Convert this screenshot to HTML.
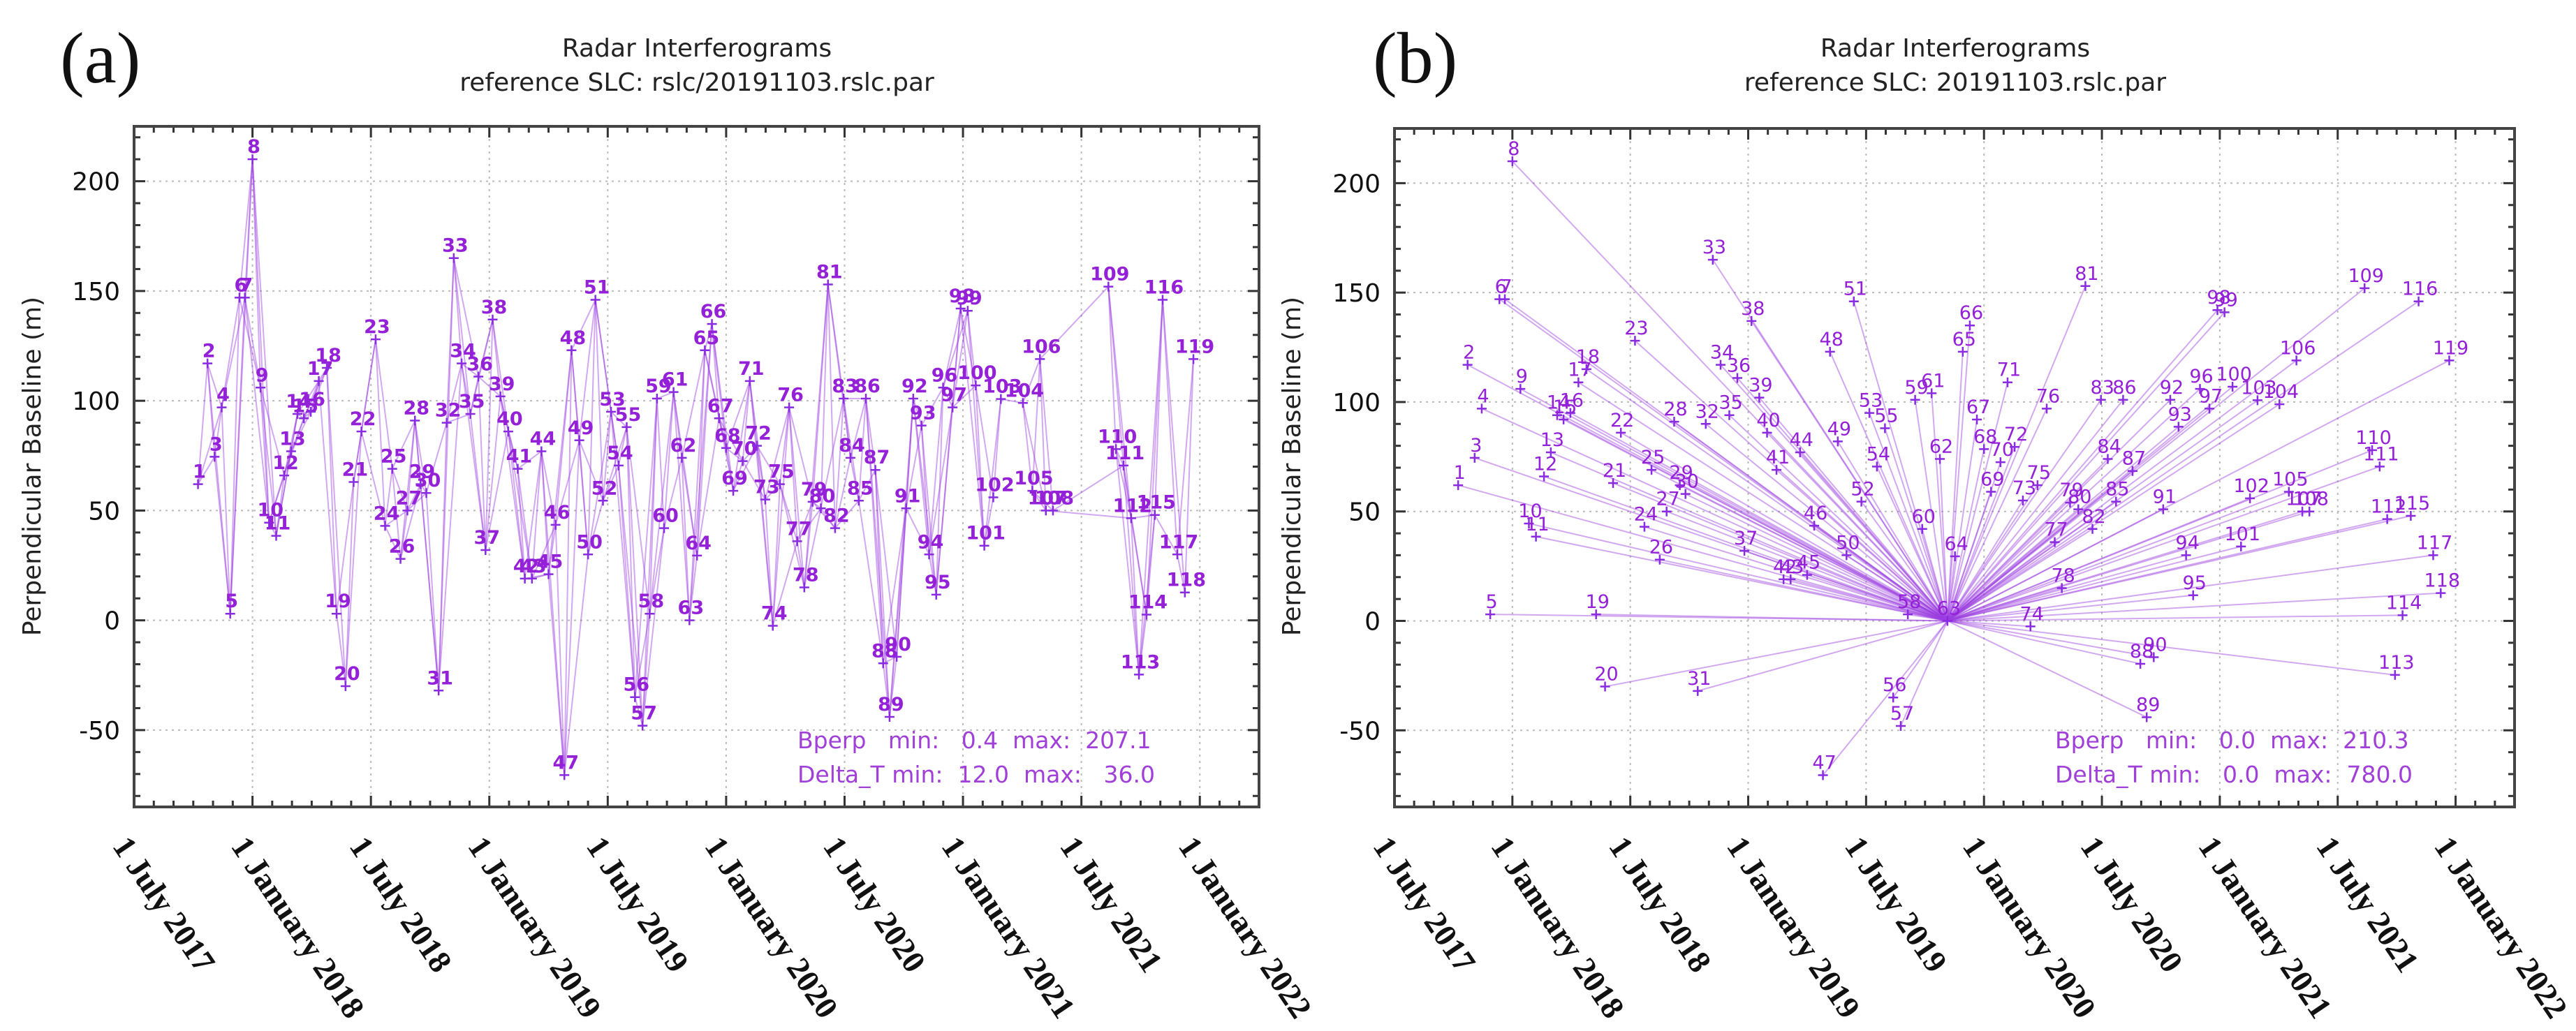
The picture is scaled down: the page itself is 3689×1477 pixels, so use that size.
<!DOCTYPE html>
<html><head><meta charset="utf-8">
<style>
html,body{margin:0;padding:0;background:#fff;}
svg{display:block;}
text{font-family:"DejaVu Sans","Liberation Sans",sans-serif;}
.serif{font-family:"Liberation Serif","Times New Roman",serif;}
</style></head>
<body>
<svg id="chart" width="3689" height="1477" viewBox="0 0 3689 1477" xmlns="http://www.w3.org/2000/svg">
<rect x="0" y="0" width="3689" height="1477" fill="#fff"/>
</svg>
<script>
// ---- data ----
const acqIds = [];
for (let i = 1; i <= 119; i++) acqIds.push(i);
const acqDates = [2017.77,2017.81,2017.84,2017.87,2017.906,2017.945,2017.968,2018.0,2018.034,2018.07,
2018.10,2018.134,2018.163,2018.19,2018.217,2018.246,2018.28,2018.314,2018.355,2018.393,
2018.427,2018.46,2018.52,2018.56,2018.59,2018.625,2018.654,2018.686,2018.71,2018.734,
2018.786,2018.82,2018.85,2018.883,2018.92,2018.954,2018.984,2019.014,2019.047,2019.08,
2019.12,2019.15,2019.18,2019.22,2019.25,2019.28,2019.317,2019.347,2019.38,2019.417,
2019.448,2019.48,2019.514,2019.546,2019.58,2019.615,2019.647,2019.677,2019.708,2019.738,
2019.778,2019.813,2019.845,2019.877,2019.91,2019.94,2019.97,2020.0,2020.03,2020.07,
2020.1,2020.13,2020.165,2020.197,2020.227,2020.266,2020.30,2020.33,2020.365,2020.40,
2020.43,2020.46,2020.496,2020.525,2020.56,2020.59,2020.63,2020.663,2020.69,2020.72,
2020.76,2020.79,2020.825,2020.857,2020.887,2020.916,2020.956,2020.99,2021.02,2021.054,
2021.09,2021.128,2021.16,2021.253,2021.293,2021.325,2021.35,2021.38,2021.614,2021.646,
2021.678,2021.71,2021.743,2021.775,2021.81,2021.843,2021.905,2021.937,2021.973];
const acqBperp = [62,117,74.5,97,3,147,147,210,106,44.5,
38.5,66,77,94,92,95,109,115,3,-30,
63,86,128,43,69,28,50,91,62,58,
-32,90,165,117,94,111,32,137,102,86,
69,19,19,77,21,43.5,-70.5,123,82,30,
146,54.5,95,70.5,88,-35,-48,3,101,42,
104,74,0,29.5,123,135,92,78.5,59,72.5,
109,79.5,55,-2.5,62,97,36,15,54,51,
153,42,101,74,54.5,101,68.5,-19.6,-44,-16.6,
51,101,88.7,30,11.7,106,97,142,141,107,
34,56,100.8,99,59,119,50,50,152,78,
70.5,46.5,-24.7,2.6,48,146,30,12.7,119];
const extraPairs = [[106,109],[108,111],[107,112]];
const referenceId = 63;
const yTicks = [-50,0,50,100,150,200];
const xTickYears = [2017.5,2018,2018.5,2019,2019.5,2020,2020.5,2021,2021.5,2022];
const xTickLabels = ["1 July 2017","1 January 2018","1 July 2018","1 January 2019","1 July 2019","1 January 2020","1 July 2020","1 January 2021","1 July 2021","1 January 2022"];
const statsA = ["Bperp   min:   0.4  max:  207.1","Delta_T min:  12.0  max:   36.0"];
const statsB = ["Bperp   min:   0.0  max:  210.3","Delta_T min:   0.0  max:  780.0"];

const NS = "http://www.w3.org/2000/svg";
const svg = document.getElementById('chart');
function mk(tag, attrs, parent){
  const e = document.createElementNS(NS, tag);
  for (const k in attrs) e.setAttribute(k, attrs[k]);
  (parent||svg).appendChild(e);
  return e;
}
const X0 = 2017.5, X1 = 2022.25, Y0 = -85, Y1 = 225;

function panel(opt){
  const g = mk('g', {});
  
  
  const L=opt.left, R=opt.right, T=opt.top, B=opt.bottom;
  const sx = v => L + (v - X0) / (X1 - X0) * (R - L);
  const sy = v => B - (v - Y0) / (Y1 - Y0) * (B - T);

  xTickYears.forEach(v => {
    const l = mk('line',{x1:sx(v),x2:sx(v),y1:T,y2:B,stroke:'#bbb','stroke-width':2,'stroke-dasharray':'3 6'},g);
    
    
  });
  yTicks.forEach(v => {
    const l = mk('line',{x1:L,x2:R,y1:sy(v),y2:sy(v),stroke:'#bbb','stroke-width':2,'stroke-dasharray':'3 6'},g);
    
    
  });
  for (let m = 0; m < 57; m++) {
    const v = X0 + m/12;
    if (v > X1) break;
    const major = (m % 6 === 0);
    const len = major ? 16 : 9;
    mk('line',{x1:sx(v),x2:sx(v),y1:B,y2:B-len,stroke:'#333','stroke-width':3},g);
    mk('line',{x1:sx(v),x2:sx(v),y1:T,y2:T+len,stroke:'#333','stroke-width':3},g);
  }
  for (let v = -80; v <= 220; v += 10) {
    const major = (v % 50 === 0);
    const len = major ? 16 : 9;
    mk('line',{x1:L,x2:L+len,y1:sy(v),y2:sy(v),stroke:'#333','stroke-width':3},g);
    mk('line',{x1:R,x2:R-len,y1:sy(v),y2:sy(v),stroke:'#333','stroke-width':3},g);
  }
  yTicks.forEach(v => {
    const t = mk('text',{x:L-20,y:sy(v)+13,'text-anchor':'end','font-size':36,fill:'#111'},g);
    t.textContent = v;
    
    
  });
  xTickYears.forEach((v,i) => {
    const x = sx(v) - 32, y = 1212;
    const t = mk('text',{x:0,y:0,transform:`translate(${x},${y}) rotate(56)`,'font-size':46,'font-weight':'bold',fill:'#111','class':'serif'},g);
    t.textContent = xTickLabels[i];
    
    
  });

  const lg = mk('g',{stroke:'#9b3fe0','stroke-width':2,'stroke-opacity':0.45,fill:'none'},g);
  
  
  const n = acqIds.length;
  const addLine = (a,b) => {
    const l = mk('line',{x1:sx(acqDates[a]),y1:sy(acqBperp[a]),x2:sx(acqDates[b]),y2:sy(acqBperp[b])},lg);
    
    
  };
  if (opt.mode === 'sbas') {
    for (let i=0;i<n;i++) for (let k=1;k<=3;k++) {
      const j=i+k; if (j>=n) break;
      if (acqDates[j]-acqDates[i] <= 0.105) addLine(i,j);
    }
    extraPairs.forEach(p => addLine(acqIds.indexOf(p[0]), acqIds.indexOf(p[1])));
  } else {
    const r = acqIds.indexOf(referenceId);
    for (let i=0;i<n;i++) if (i!==r) addLine(r,i);
  }
  const mg = mk('g',{},g);
  
  
  for (let i=0;i<n;i++){
    const x = sx(acqDates[i]), y = sy(acqBperp[i]);
    const p = mk('path',{d:`M${x-7},${y}h14M${x},${y-7}v14`,stroke:'#8a2be2','stroke-width':2.5},mg);
    
    
    const t = mk('text',{x:x+2,y:y-9,'text-anchor':'middle','font-size':27,'font-weight':opt.mode==='sbas'?'bold':'normal',fill:'#9420d8'},mg);
    t.textContent = acqIds[i];
    
    
  }
  const fr = mk('rect',{x:L,y:T,width:R-L,height:B-T,fill:'none',stroke:'#444','stroke-width':4},g);
  
  

  opt.stats.forEach((s,i) => {
    const t = mk('text',{x:opt.statsX,y:1072+i*49,'font-size':33,fill:'#a040d8','xml:space':'preserve'},g);
    t.setAttribute('style','white-space:pre');
    t.textContent = s;
    
    
  });
  const t1 = mk('text',{x:opt.titleX,y:81,'text-anchor':'middle','font-size':36,fill:'#222'},g);
  t1.textContent = 'Radar Interferograms';
  
  
  const t2 = mk('text',{x:opt.titleX,y:130,'text-anchor':'middle','font-size':36,fill:'#222'},g);
  t2.textContent = opt.subtitle;
  
  
  const pl = mk('text',{x:opt.labelX,y:118,'font-size':104,fill:'#111','class':'serif'},g);
  pl.textContent = opt.panelLabel;
  
  
  const yt = mk('text',{x:0,y:0,transform:`translate(${opt.yTitleX},668) rotate(-90)`,'text-anchor':'middle','font-size':36,fill:'#222'},g);
  yt.textContent = 'Perpendicular Baseline (m)';
  
  
}

panel({name:'panel-a-sbas-network',mode:'sbas',left:192,right:1803,top:181,bottom:1156,
  stats:statsA,statsX:1142,titleX:998,subtitle:'reference SLC: rslc/20191103.rslc.par',panelLabel:'(a)',labelX:86,yTitleX:58});
panel({name:'panel-b-single-reference',mode:'star',left:1997,right:3601,top:184,bottom:1156,
  stats:statsB,statsX:2943,titleX:2800,subtitle:'reference SLC: 20191103.rslc.par',panelLabel:'(b)',labelX:1966,yTitleX:1862});
</script>
</body></html>
